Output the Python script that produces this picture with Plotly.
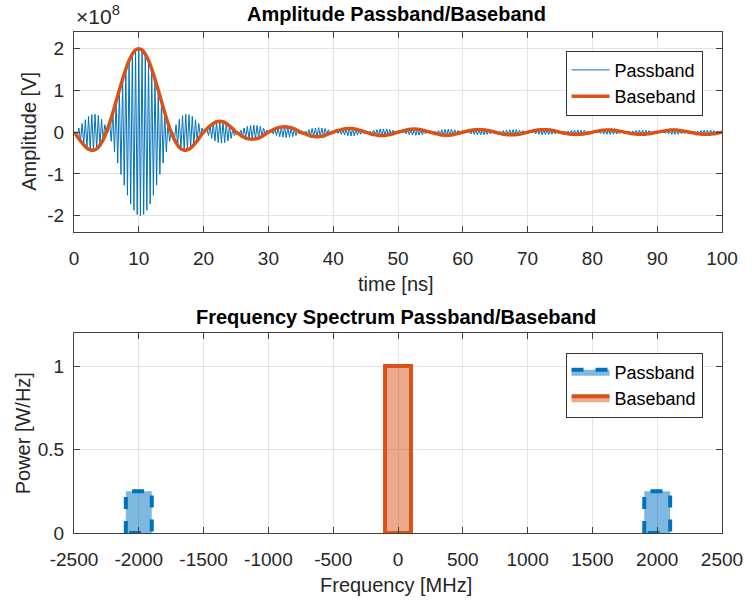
import numpy as np
import plotly.graph_objects as go

# ---------------- data ----------------
# time grid [ns] (0.5 ns sampling)
time_ns = np.arange(0, 100.0001, 0.5)

# baseband amplitude, units of 1e8 V
baseband = [
    0.00, -0.10, -0.21, -0.30, -0.38, -0.42, -0.43, -0.40, -0.31, -0.18,
    0.00, 0.22, 0.47, 0.74, 1.01, 1.27, 1.51, 1.72, 1.87, 1.97,
    2.00, 1.97, 1.87, 1.72, 1.51, 1.27, 1.01, 0.74, 0.47, 0.22,
    0.00, -0.18, -0.31, -0.40, -0.43, -0.42, -0.38, -0.30, -0.21, -0.10,
    0.00, 0.08, 0.15, 0.21, 0.25, 0.26, 0.25, 0.21, 0.15, 0.08,
    0.00, -0.05, -0.10, -0.14, -0.16, -0.17, -0.16, -0.14, -0.10, -0.05,
    0.00, 0.04, 0.08, 0.11, 0.12, 0.13, 0.12, 0.11, 0.08, 0.04,
    0.00, -0.03, -0.06, -0.09, -0.10, -0.11, -0.10, -0.09, -0.06, -0.03,
    0.00, 0.03, 0.05, 0.07, 0.09, 0.09, 0.09, 0.07, 0.05, 0.03,
    0.00, -0.02, -0.05, -0.06, -0.08, -0.08, -0.08, -0.06, -0.05, -0.02,
    0.00, 0.02, 0.04, 0.06, 0.07, 0.075, 0.07, 0.06, 0.04, 0.02,
    0.00, -0.02, -0.04, -0.06, -0.07, -0.07, -0.07, -0.06, -0.04, -0.02,
    0.00, 0.02, 0.04, 0.05, 0.06, 0.065, 0.06, 0.05, 0.04, 0.02,
    0.00, -0.02, -0.04, -0.05, -0.06, -0.06, -0.06, -0.05, -0.04, -0.02,
    0.00, 0.02, 0.04, 0.05, 0.06, 0.06, 0.06, 0.05, 0.04, 0.02,
    0.00, -0.02, -0.03, -0.045, -0.05, -0.055, -0.05, -0.045, -0.03, -0.02,
    0.00, 0.02, 0.03, 0.045, 0.05, 0.055, 0.05, 0.045, 0.03, 0.02,
    0.00, -0.015, -0.03, -0.04, -0.05, -0.05, -0.05, -0.04, -0.03, -0.015,
    0.00, 0.015, 0.03, 0.04, 0.05, 0.05, 0.05, 0.04, 0.03, 0.015,
    0.00, -0.015, -0.03, -0.04, -0.05, -0.05, -0.05, -0.04, -0.03, -0.015,
    0.00,
]

carrier_half_period_ns = 0.25  # 2 GHz carrier

# spectrum (frequency in MHz, power in W/Hz)
pass_centers = [-2000, 2000]
pass_power = [0.25, 0.25]
base_centers = [0]
base_power = [1.0]
band_width = 200

# ---------------- build ----------------
bb = np.array(baseband)
pb_x, pb_y = [], []
for t, v in zip(time_ns[:-1], bb[:-1]):
    pb_x += [t, t + carrier_half_period_ns]
    pb_y += [v, -v]
pb_x.append(time_ns[-1]); pb_y.append(bb[-1])


def rects(centers, heights, w):
    xs, ys = [], []
    for c, h in zip(centers, heights):
        xs += [c - w / 2, c - w / 2, c + w / 2, c + w / 2, c - w / 2, None]
        ys += [0, h, h, 0, 0, None]
    return xs, ys


BLUE = "#0072BD"
ORANGE = "#D95319"
FONT = "Liberation Sans, Arial, sans-serif"
TICKC = "#262626"

fig = go.Figure()
fig.add_trace(go.Scatter(x=pb_x, y=pb_y, mode="lines", name="Passband",
                         line=dict(color=BLUE, width=1), xaxis="x", yaxis="y",
                         legend="legend"))
fig.add_trace(go.Scatter(x=time_ns, y=bb, mode="lines", name="Baseband",
                         line=dict(color=ORANGE, width=3.5, shape="spline"),
                         xaxis="x", yaxis="y", legend="legend"))

px_, py_ = rects(pass_centers, pass_power, band_width)
bx_, by_ = rects(base_centers, base_power, band_width)
fig.add_trace(go.Scatter(x=px_, y=py_, mode="lines", name="Passband", fill="toself",
                         fillcolor="rgba(0,114,189,0.5)",
                         line=dict(color=BLUE, width=4, dash="dash"),
                         xaxis="x2", yaxis="y2", legend="legend2"))
fig.add_trace(go.Scatter(x=bx_, y=by_, mode="lines", name="Baseband", fill="toself",
                         fillcolor="rgba(217,83,25,0.5)",
                         line=dict(color=ORANGE, width=4),
                         xaxis="x2", yaxis="y2", legend="legend2"))

axis_common = dict(showgrid=True, gridcolor="#e3e3e3", gridwidth=1,
                   showline=True, linecolor="#404040", linewidth=1, mirror="ticks",
                   ticks="inside", ticklen=6, tickcolor="#404040", zeroline=False,
                   tickfont=dict(family=FONT, size=19, color=TICKC))
xcommon = dict(ticklabelstandoff=9, **axis_common)
ycommon = dict(ticklabelstandoff=5, **axis_common)

legend_common = dict(bgcolor="white", bordercolor="#333333", borderwidth=1,
                     font=dict(family=FONT, size=18, color="#000000"),
                     xanchor="right", x=0.970, yanchor="top",
                     itemwidth=38, tracegroupgap=0)

fig.update_layout(
    width=755, height=601,
    margin=dict(l=74, r=23, t=32, b=68),
    paper_bgcolor="white", plot_bgcolor="white",
    font=dict(family=FONT, size=19, color=TICKC),
    xaxis=dict(domain=[0, 1], anchor="y", range=[0, 100], tickvals=list(range(0, 101, 10)), **xcommon),
    yaxis=dict(domain=[0.6, 1], anchor="x", range=[-2.4, 2.4], tickvals=[-2, -1, 0, 1, 2],
               ticktext=["-2", "-1", "0", "1", "2"], **ycommon),
    xaxis2=dict(domain=[0, 1], anchor="y2", range=[-2500, 2500],
                tickvals=list(range(-2500, 2501, 500)),
                ticktext=[str(v) for v in range(-2500, 2501, 500)], **xcommon),
    yaxis2=dict(domain=[0, 0.4], anchor="x2", range=[0, 1.2], tickvals=[0, 0.5, 1],
                ticktext=["0", "0.5", "1"], **ycommon),
    legend=dict(y=0.9627, **legend_common),
    legend2=dict(y=0.360, **legend_common),
    showlegend=True,
)

ann = [
    dict(text="<b>Amplitude Passband/Baseband</b>", x=0.497, y=1.036, size=20, color="#000000"),
    dict(text="<b>Frequency Spectrum Passband/Baseband</b>", x=0.497, y=0.431, size=20, color="#000000"),
    dict(text="time [ns]", x=0.497, y=0.497, size=20, color=TICKC),
    dict(text="Frequency [MHz]", x=0.497, y=-0.104, size=20, color=TICKC),
]
for a in ann:
    fig.add_annotation(text=a["text"], xref="paper", yref="paper", x=a["x"], y=a["y"],
                       xanchor="center", yanchor="middle", showarrow=False,
                       font=dict(family=FONT, size=a["size"], color=a["color"]))
fig.add_annotation(text="Amplitude [V]", xref="paper", yref="paper", x=-0.0684, y=0.802,
                   textangle=-90, xanchor="center", yanchor="middle", showarrow=False,
                   font=dict(family=FONT, size=20, color=TICKC))
fig.add_annotation(text="Power [W/Hz]", xref="paper", yref="paper", x=-0.079, y=0.1986,
                   textangle=-90, xanchor="center", yanchor="middle", showarrow=False,
                   font=dict(family=FONT, size=20, color=TICKC))
fig.add_annotation(text="×10<sup>8</sup>", xref="paper", yref="paper", x=0.0, y=1.034,
                   xanchor="left", yanchor="middle", showarrow=False,
                   font=dict(family=FONT, size=21, color=TICKC))

fig.write_html("out.html")
